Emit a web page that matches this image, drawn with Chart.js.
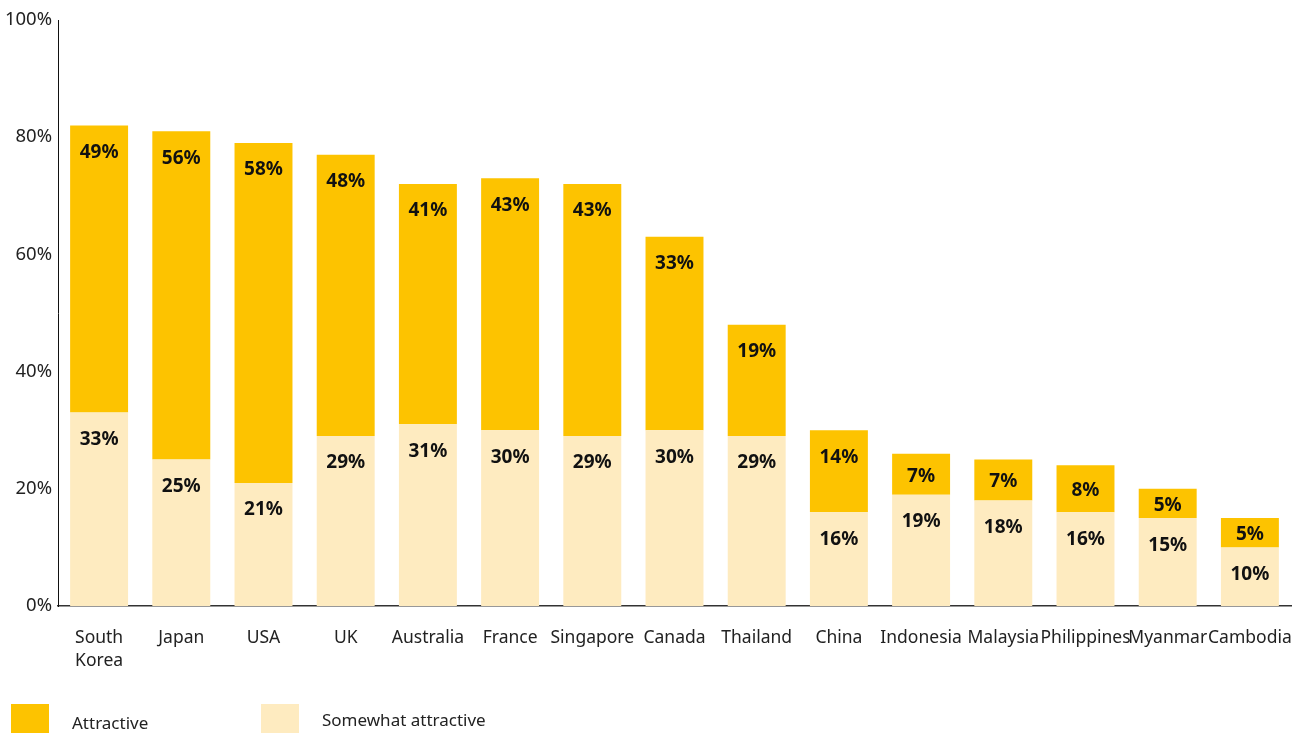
<!DOCTYPE html>
<html>
<head>
<meta charset="utf-8">
<script src="https://cdn.jsdelivr.net/npm/chart.js@4/dist/chart.umd.min.js"></script>
<style>
  html, body { margin: 0; padding: 0; background: #fff; overflow: hidden; }
  #wrap { position: relative; width: 1306px; height: 733px; }
  .legend-item { position: absolute; display: flex; align-items: center; font-family: 'Noto Sans', sans-serif; font-size: 17px; color: #222; }
  .legend-box { width: 38px; height: 29px; margin-right: 23px; }
</style>
</head>
<body>
<div id="wrap">
  <canvas id="chart" width="1306" height="733"></canvas>
  <div class="legend-item" style="left:11px; top:704px;"><span class="legend-box" style="background:#fdc300"></span><span style="position:relative; top:4px;">Attractive</span></div>
  <div class="legend-item" style="left:261px; top:704px;"><span class="legend-box" style="background:#feebc0"></span><span style="position:relative; top:1px;">Somewhat attractive</span></div>
</div>
<script>
// Chart data
const countries = [['South', 'Korea'], 'Japan', 'USA', 'UK', 'Australia', 'France', 'Singapore',
  'Canada', 'Thailand', 'China', 'Indonesia', 'Malaysia', 'Philippines', 'Myanmar', 'Cambodia'];
const somewhatAttractive = [33, 25, 21, 29, 31, 30, 29, 30, 29, 16, 19, 18, 16, 15, 10];
const attractive = [49, 56, 58, 48, 41, 43, 43, 33, 19, 14, 7, 7, 8, 5, 5];
const yTicks = [0, 20, 40, 60, 80, 100];

const FONT = "'Noto Sans', sans-serif";

// Draw value labels near the top of each segment
const segmentLabels = {
  id: 'segmentLabels',
  afterDatasetsDraw(chart) {
    const ctx = chart.ctx;
    ctx.save();
    ctx.font = `bold 19px ${FONT}`;
    ctx.fillStyle = '#111';
    ctx.textAlign = 'center';
    ctx.textBaseline = 'middle';
    chart.data.datasets.forEach((ds, i) => {
      chart.getDatasetMeta(i).data.forEach((bar, j) => {
        const h = bar.base - bar.y;
        const y = h < 50 ? bar.y + h / 2 + 2 : bar.y + 27;
        ctx.fillText(`${ds.data[j]}%`, bar.x, y);
      });
    });
    ctx.restore();
  }
};

new Chart(document.getElementById('chart'), {
  type: 'bar',
  data: {
    labels: countries,
    datasets: [
      {
        label: 'Somewhat attractive',
        data: somewhatAttractive,
        backgroundColor: '#feebc0',
        barPercentage: 0.705,
        categoryPercentage: 1
      },
      {
        label: 'Attractive',
        data: attractive,
        backgroundColor: '#fdc300',
        barPercentage: 0.705,
        categoryPercentage: 1
      }
    ]
  },
  options: {
    responsive: false,
    animation: false,
    layout: { padding: { top: 20, right: 15, left: 0, bottom: 0 } },
    plugins: {
      legend: { display: false },
      tooltip: { enabled: false }
    },
    scales: {
      x: {
        stacked: true,
        grid: { display: false, drawTicks: false },
        border: { display: true, color: '#333', width: 1.5 },
        ticks: {
          color: '#222',
          font: { family: FONT, size: 17.5, lineHeight: 1.3 },
          padding: 21,
          maxRotation: 0,
          autoSkip: false
        },
        afterFit: (s) => { s.height = 127; s.paddingLeft = 0; s.paddingRight = 0; }
      },
      y: {
        stacked: true,
        min: 0,
        max: 100,
        afterBuildTicks: (s) => { s.ticks = yTicks.map(v => ({ value: v })); },
        grid: { display: false, drawTicks: false },
        border: { display: true, color: '#111', width: 1 },
        ticks: {
          color: '#222',
          font: { family: FONT, size: 18.5 },
          padding: 6,
          callback: (v) => `${v}%`
        },
        afterFit: (s) => { s.width = 58; }
      }
    }
  },
  plugins: [segmentLabels]
});
</script>
</body>
</html>
